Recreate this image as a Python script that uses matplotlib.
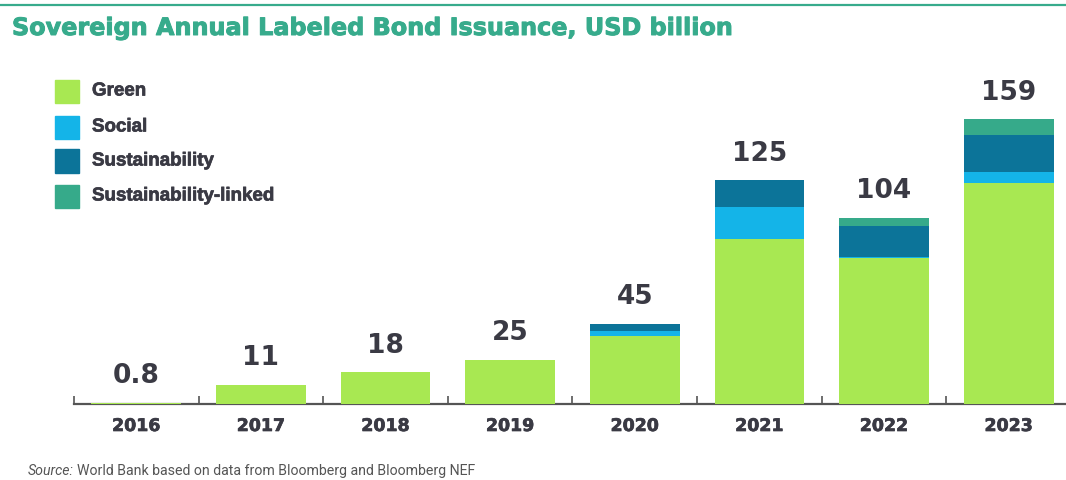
import matplotlib

matplotlib.use("Agg")
import matplotlib.pyplot as plt
import matplotlib.patheffects as pe
from matplotlib.lines import Line2D
from matplotlib.patches import Rectangle

years = ["2016", "2017", "2018", "2019", "2020", "2021", "2022", "2023"]
green = [0.8, 11, 18, 25, 38.3, 92.5, 81.8, 123.5]
social = [0, 0, 0, 0, 2.8, 17.6, 0.7, 6.4]
sustainability = [0, 0, 0, 0, 3.9, 14.9, 17.2, 20.4]
sust_linked = [0, 0, 0, 0, 0, 0, 4.3, 8.7]
totals = ["0.8", "11", "18", "25", "45", "125", "104", "159"]

series = [
    ("Green", green, "#a8e852"),
    ("Social", social, "#14b4e8"),
    ("Sustainability", sustainability, "#0c7499"),
    ("Sustainability-linked", sust_linked, "#36aa8a"),
]

TEAL = "#37ab8c"
DARK = "#3a3a44"
W, H = 1066, 481


def heavy(color, lw=0.6):
    # thin same-colour outline to thicken bold glyphs
    return [pe.withStroke(linewidth=lw, foreground=color)]


fig = plt.figure(figsize=(W / 100, H / 100), dpi=100)

# header rule and title
fig.add_artist(Line2D([0, 1], [1 - 5.5 / H, 1 - 5.5 / H], color=TEAL, lw=1.6))
fig.text(12 / W, 1 - 36 / H, "Sovereign Annual Labeled Bond Issuance, USD billion",
         color=TEAL, fontsize=17.2, fontweight="bold", family="DejaVu Sans",
         ha="left", va="baseline", path_effects=heavy(TEAL, 0.7))

ax = fig.add_axes([74 / W, 0.157, 1 - 74 / W, 0.671])
xs = list(range(len(years)))
bottom = [0.0] * len(years)
for name, vals, color in series:
    ax.bar(xs, vals, width=0.72, bottom=bottom, color=color, label=name, zorder=2)
    bottom = [b + v for b, v in zip(bottom, vals)]

for x, top, lab in zip(xs, bottom, totals):
    ax.annotate(lab, (x, top), xytext=(0, 10.5), textcoords="offset points",
                ha="center", va="bottom", fontsize=19, fontweight="bold",
                family="DejaVu Sans", color=DARK)

ax.set_xlim(-0.5, 7.46)
ax.set_ylim(0, 180)
for side in ["left", "right", "top"]:
    ax.spines[side].set_visible(False)
ax.spines["bottom"].set_color("#555555")
ax.spines["bottom"].set_linewidth(1.6)
ax.spines["bottom"].set_zorder(1)
ax.set_yticks([])
ax.set_xticks([x - 0.5 for x in xs])
ax.set_xticklabels([])
ax.tick_params(axis="x", direction="in", length=5.5, width=1.2, color="#555555")
for x, yr in zip(xs, years):
    ax.text(x, -12, yr, ha="center", va="center", fontsize=12.5,
            fontweight="bold", family="DejaVu Sans", color=DARK,
            path_effects=heavy(DARK, 0.5))

# legend as squares with labels
leg_y = [92, 128, 162, 197]
for (name, _, color), y in zip(series, leg_y):
    fig.add_artist(Rectangle((55 / W, 1 - (y + 11.5) / H), 24 / W, 23 / H,
                             color=color, transform=fig.transFigure))
    fig.text(92 / W, 1 - y / H, name, fontsize=13.5, fontweight="bold",
             family="Liberation Sans", color=DARK, ha="left", va="center",
             path_effects=heavy(DARK, 0.5))

# source line: italic lead-in, then plain text right after it
src = fig.text(28 / W, 1 - 475 / H, "Source:", fontsize=10.2, style="italic",
               family="Roboto", color="#555555", ha="left", va="baseline")
renderer = fig.canvas.get_renderer()
x_end = src.get_window_extent(renderer).x1
fig.text((x_end + 3) / W, 1 - 475 / H,
         "World Bank based on data from Bloomberg and Bloomberg NEF",
         fontsize=10.2, family="Roboto", color="#555555", ha="left", va="baseline")

fig.savefig("out.png", dpi=100)
